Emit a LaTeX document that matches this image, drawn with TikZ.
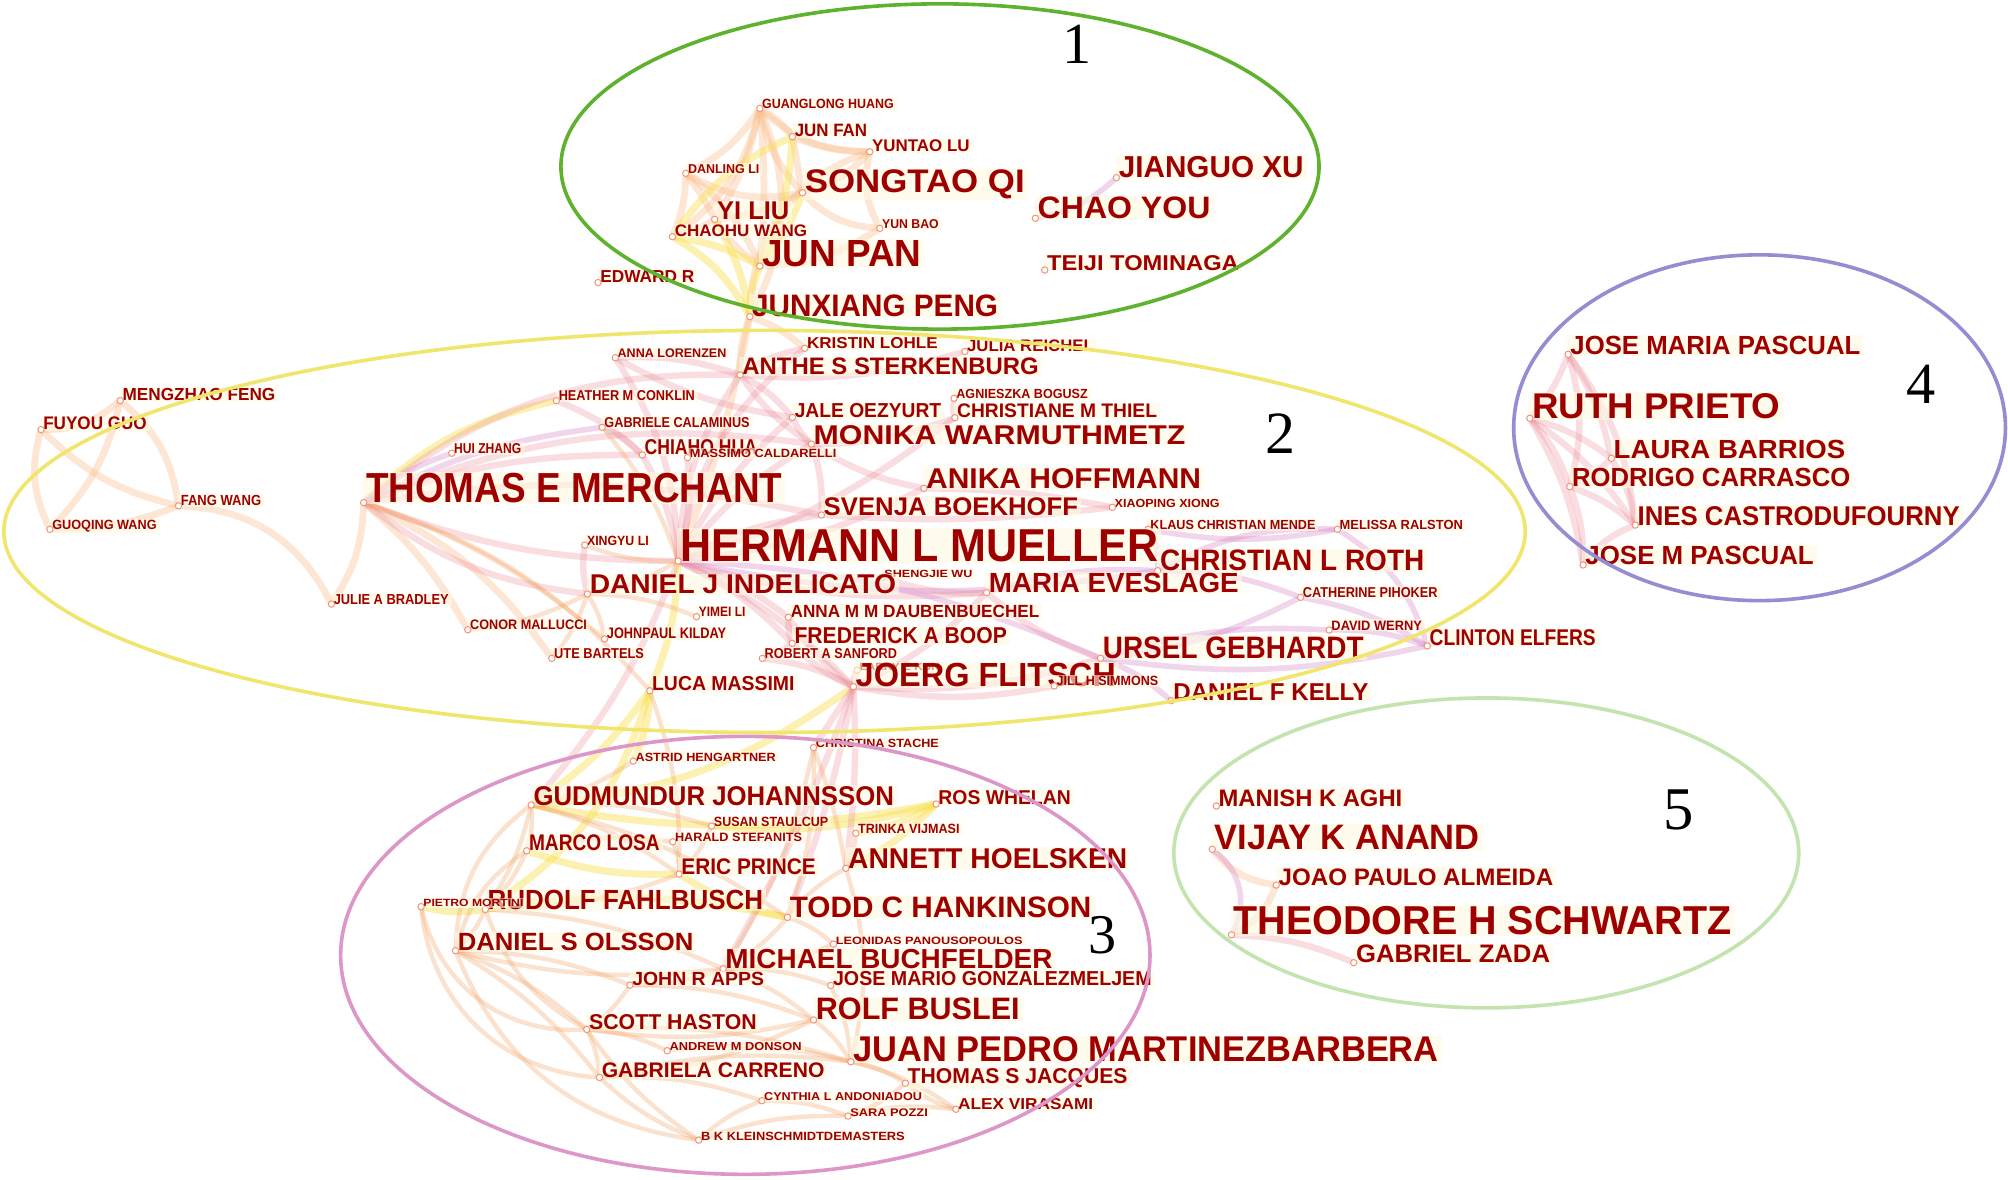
\documentclass[tikz,border=0pt]{standalone}
\usepackage{fontspec}
\usepackage{graphicx}
\newfontfamily\tx{Liberation Sans}
\newfontfamily\dg{Liberation Serif}
\pgfdeclarelayer{bg}
\pgfsetlayers{bg,main}
\newdimen\ux \ux=0.64pt
\definecolor{txt}{RGB}{158,0,0}
\definecolor{cream}{RGB}{255,251,228}
\definecolor{cpeach}{RGB}{250,190,140}
\definecolor{corange}{RGB}{245,160,95}
\definecolor{cyel}{RGB}{250,225,80}
\definecolor{cpink}{RGB}{235,135,150}
\definecolor{cmauve}{RGB}{215,135,200}
\definecolor{dotc}{RGB}{240,150,120}
\definecolor{ellgreen}{RGB}{95,178,45}
\definecolor{ellyellow}{RGB}{240,230,110}
\definecolor{ellpink}{RGB}{220,150,200}
\definecolor{ellpurple}{RGB}{150,140,210}
\definecolor{elllight}{RGB}{195,228,175}
\tikzset{
  lbl/.style={anchor=base west, inner xsep=1.5pt, inner ysep=0.6pt, fill=cream, fill opacity=0.6, text opacity=1, text=txt},
  dot/.style={circle, draw=dotc, fill=white, line width=0.5pt, minimum size=3.2pt, inner sep=0pt},
  dig/.style={inner sep=0pt, text=black},
  epeach/.style={draw=cpeach, line width=3.4pt, opacity=0.38, line cap=round},
  eorange/.style={draw=corange, line width=2.2pt, opacity=0.3, line cap=round},
  eyel/.style={draw=cyel, line width=3.6pt, opacity=0.45, line cap=round},
  epink/.style={draw=cpink, line width=3.2pt, opacity=0.28, line cap=round},
  emauve/.style={draw=cmauve, line width=2.8pt, opacity=0.35, line cap=round},
  ell/.style={line width=1.8pt}
}
\newcommand\au[6]{%
  \node[lbl] (#1l) at ({#2-2.34},{#3+#4/2}) {\resizebox{#5\ux}{#4\ux}{\tx\bfseries #6}};
  \node[dot] (#1) at ({#2-1.5},{#3+#4/2}) {};
}
\begin{document}
\begin{tikzpicture}[x=0.64pt,y=-0.64pt]
\useasboundingbox (0,0) rectangle (1568,921);
% cluster 1
\au{gh}{594.8}{81}{7.3}{102.8}{GUANGLONG HUANG}
\au{jfa}{620.3}{101.9}{9.6}{56.5}{JUN FAN}
\au{ytl}{680.7}{113.9}{9.2}{76.2}{YUNTAO LU}
\au{dl}{537}{131.8}{7.0}{55.7}{DANLING LI}
\au{sq}{628.1}{141.6}{17.8}{171.8}{SONGTAO QI}
\au{yl}{559.6}{164.4}{13.8}{56.5}{YI LIU}
\au{cw}{526.6}{180.3}{9.1}{103.3}{CHAOHU WANG}
\au{yb}{688.5}{174.8}{7.0}{44.2}{YUN BAO}
\au{jpn}{594.8}{197.6}{20.3}{124.4}{JUN PAN}
\au{er}{468.5}{216}{9.3}{73.4}{EDWARD R}
\au{jxp}{587}{238.8}{16.9}{192.1}{JUNXIANG PENG}
\au{jgx}{873.3}{130.5}{16.5}{144.4}{JIANGUO XU}
\au{cy}{810}{162}{16.9}{134.9}{CHAO YOU}
\au{tt}{817.3}{205}{11.7}{149.7}{TEIJI TOMINAGA}
% cluster 2
\au{kl}{629.9}{267.7}{8.6}{102}{KRISTIN LOHLE}
\au{jr}{754.9}{270}{9.1}{98.9}{JULIA REICHEL}
\au{al}{482}{275.9}{6.8}{84.9}{ANNA LORENZEN}
\au{ass}{579.4}{286.3}{13}{231.4}{ANTHE S STERKENBURG}
\au{hmc}{436}{309}{7.8}{106.2}{HEATHER M CONKLIN}
\au{ab}{746.5}{307.4}{7.2}{102.6}{AGNIESZKA BOGUSZ}
\au{jo}{620.3}{320.4}{11}{114.3}{JALE OEZYURT}
\au{ctm}{747.1}{320.8}{10.7}{156.1}{CHRISTIANE M THIEL}
\au{gcal}{471.7}{329.8}{7.8}{113.4}{GABRIELE CALAMINUS}
\au{mw}{635.1}{339.3}{14.8}{290.2}{MONIKA WARMUTHMETZ}
\au{ch}{503.1}{349.4}{11.7}{87.8}{CHIAHO HUA}
\au{mcal}{538.3}{354.1}{6.5}{114.5}{MASSIMO CALDARELLI}
\au{hz}{354.3}{350}{7.8}{52.5}{HUI ZHANG}
\au{ah}{722.9}{373.5}{15.6}{214.7}{ANIKA HOFFMANN}
\au{tem}{285.5}{381}{22.9}{325}{THOMAS E MERCHANT}
\au{sb}{642.9}{395.2}{13.9}{198.7}{SVENJA BOEKHOFF}
\au{xx}{870.1}{392.9}{6.4}{82}{XIAOPING XIONG}
\au{kcm}{898}{409.7}{7.2}{128.9}{KLAUS CHRISTIAN MENDE}
\au{mr}{1045.8}{409.7}{7.2}{96.2}{MELISSA RALSTON}
\au{xl}{458.1}{422}{7.3}{48.2}{XINGYU LI}
\au{hm}{531}{425.7}{24.8}{373.2}{HERMANN L MUELLER}
\au{clr}{905.5}{437.6}{16.1}{206.4}{CHRISTIAN L ROTH}
\au{sw}{690.3}{448}{5.7}{68.7}{SHENGJIE WU}
\au{dji}{460.2}{456.4}{14.8}{239.1}{DANIEL J INDELICATO}
\au{me}{771.9}{455.2}{15.1}{195.1}{MARIA EVESLAGE}
\au{cp}{1017.1}{462.5}{7.8}{105.1}{CATHERINE PIHOKER}
\au{jab}{260.3}{467.8}{7.8}{89.8}{JULIE A BRADLEY}
\au{yml}{545.4}{477.9}{7.3}{36.4}{YIMEI LI}
\au{amd}{617.1}{477.2}{9.6}{194.2}{ANNA M M DAUBENBUECHEL}
\au{cmal}{366.8}{488}{7.5}{91.2}{CONOR MALLUCCI}
\au{dw}{1039.4}{488.3}{7.3}{70.6}{DAVID WERNY}
\au{jk}{473.6}{494.8}{8.3}{93.2}{JOHNPAUL KILDAY}
\au{fab}{620.1}{496.1}{12.5}{165.9}{FREDERICK A BOOP}
\au{ce}{1116.1}{498.2}{12.4}{129.7}{CLINTON ELFERS}
\au{ug}{860.9}{505.6}{16.9}{203.6}{URSEL GEBHARDT}
\au{ub}{432.4}{510.2}{7.8}{70.2}{UTE BARTELS}
\au{ras}{596.8}{510.2}{7.8}{103.3}{ROBERT A SANFORD}
\au{lek}{670.9}{520.4}{5.7}{62.7}{LARRY E KUN}
\au{jfl}{667.9}{527.1}{18.2}{203.2}{JOERG FLITSCH}
\au{lm}{508.9}{533.9}{11}{111.2}{LUCA MASSIMI}
\au{jhs}{824.7}{532}{7.3}{79.5}{JILL H SIMMONS}
\au{dfk}{915.9}{540.6}{13.1}{152.3}{DANIEL F KELLY}
\au{mf}{95.4}{308}{9.5}{119.3}{MENGZHAO FENG}
\au{fg}{33.5}{330.5}{9.9}{80.8}{FUYOU GUO}
\au{fw}{140.9}{391}{8}{62.7}{FANG WANG}
\au{gw}{40.5}{409.7}{7.3}{81.5}{GUOQING WANG}
% cluster 3
\au{chs}{636.8}{580.5}{6.5}{96}{CHRISTINA STACHE}
\au{ahg}{496}{591}{6.5}{109.5}{ASTRID HENGARTNER}
\au{gj}{416.3}{621.2}{14.8}{281.5}{GUDMUNDUR JOHANNSSON}
\au{rw}{732.5}{622.4}{10.9}{103.3}{ROS WHELAN}
\au{ssc}{557.2}{641.4}{7.3}{89.3}{SUSAN STAULCUP}
\au{tv}{669.8}{647}{7.3}{79.2}{TRINKA VIJMASI}
\au{hst}{526.8}{654}{6.6}{99.2}{HARALD STEFANITS}
\au{ml}{412.8}{658.2}{12.3}{102.1}{MARCO LOSA}
\au{anh}{662}{670.2}{15.6}{218}{ANNETT HOELSKEN}
\au{ep}{531.8}{676.4}{12.3}{105}{ERIC PRINCE}
\au{rf}{380.5}{702.6}{15.1}{215.1}{RUDOLF FAHLBUSCH}
\au{pmo}{330.3}{705.1}{5.7}{78.1}{PIETRO MORTINI}
\au{tch}{616.4}{708.3}{16.1}{235.6}{TODD C HANKINSON}
\au{lp}{652.3}{734.3}{5.8}{145.9}{LEONIDAS PANOUSOPOULOS}
\au{dso}{357.2}{735.6}{13.6}{183.9}{DANIEL S OLSSON}
\au{mb}{566.2}{749}{15}{255.3}{MICHAEL BUCHFELDER}
\au{jra}{493.4}{764}{10.4}{103}{JOHN R APPS}
\au{jmg}{650.2}{764}{11}{248.8}{JOSE MARIO GONZALEZMELJEM}
\au{rb}{636.8}{788}{16.9}{159.1}{ROLF BUSLEI}
\au{sh}{459.7}{798}{11.7}{130.9}{SCOTT HASTON}
\au{amdo}{522.5}{817.3}{6.3}{103.1}{ANDREW M DONSON}
\au{jpm}{665.9}{819.3}{19.5}{457.3}{JUAN PEDRO MARTINEZBARBERA}
\au{gc}{469.6}{835.6}{11.5}{173.9}{GABRIELA CARRENO}
\au{tsj}{708.5}{840}{11.7}{171.7}{THOMAS S JACQUES}
\au{cla}{596.4}{856.4}{6.2}{123.3}{CYNTHIA L ANDONIADOU}
\au{av}{747.9}{861.9}{8.6}{105.4}{ALEX VIRASAMI}
\au{spz}{663.7}{868.5}{6}{60.5}{SARA POZZI}
\au{bkk}{547.1}{887}{6.5}{159.1}{B K KLEINSCHMIDTDEMASTERS}
% cluster 4
\au{jmpa}{1226}{269.5}{14.3}{226.4}{JOSE MARIA PASCUAL}
\au{rp}{1196.1}{316.9}{19.5}{193.9}{RUTH PRIETO}
\au{lb}{1259.8}{350.7}{14.3}{180.9}{LAURA BARRIOS}
\au{rc}{1227.3}{372.8}{14.3}{217.3}{RODRIGO CARRASCO}
\au{icd}{1278.5}{402.6}{14.8}{251.5}{INES CASTRODUFOURNY}
\au{jmp}{1237.7}{434}{14.3}{178.3}{JOSE M PASCUAL}
% cluster 5
\au{mka}{951.3}{622.9}{13}{143.4}{MANISH K AGHI}
\au{vka}{948.1}{653.7}{19}{207.1}{VIJAY K ANAND}
\au{jpa}{998.1}{684.6}{13}{214.5}{JOAO PAULO ALMEIDA}
\au{ths}{963.1}{719}{22}{388.8}{THEODORE H SCHWARTZ}
\au{gz}{1058.6}{744.8}{13.8}{151.5}{GABRIEL ZADA}

\begin{pgfonlayer}{bg}
\fill[white] (0,0) rectangle (1568,921);
\foreach \a/\b/\c in {gh/jfa/10, gh/dl/15, gh/yl/10, gh/sq/-15, gh/jpn/5, gh/ytl/-20, gh/cw/20, gh/jxp/25,
  jfa/ytl/-10, jfa/sq/0, dl/cw/10, dl/jpn/15, dl/sq/-20, dl/yl/5, sq/ytl/-15, sq/yb/-20, sq/yl/10,
  yl/cw/10, yl/jpn/-10, yb/jpn/15, yb/ytl/20, jxp/kl/10, jxp/ass/-10, jxp/hm/5, ytl/jxp/-35,
  tem/jab/15, jab/fw/-30, fw/gw/10, fw/fg/15, fw/mf/-20, fg/mf/-20, fg/gw/-20, mf/gw/15,
  vka/jpa/-20, jpa/ths/20, tem/cmal/10, tem/ub/15}
  \draw[epeach] (\a) to[bend left=\c] (\b);
\foreach \a/\b/\c in {jfa/cw/-15, jfa/jpn/10, sq/jpn/10, yl/jxp/10, cw/jpn/10, cw/jxp/15, jpn/jxp/-10,
  tem/hmc/15, lm/ahg/10, lm/rf/20, lm/gj/10, gj/rw/-10, rw/tv/10, rw/anh/10, rf/pmo/10, ep/ml/10,
  ep/tch/-10, jfl/gj/15, hm/lm/10, rw/ssc/10, tch/rf/-10}
  \draw[eyel] (\a) to[bend left=\c] (\b);
\foreach \a/\b/\c in {hm/mw/10, hm/ah/-10, hm/sb/10, hm/me/-10, hm/tem/10, hm/ass/15, hm/jo/10, hm/ctm/-10,
  hm/amd/10, hm/fab/10, hm/ch/-10, hm/kl/20, hm/jfl/10, tem/mw/15, tem/dji/-15, tem/ch/10, tem/sb/10,
  tem/ass/20, ah/xx/5, sb/xx/-5, mw/ass/10, mw/jo/10, mw/ah/-10, mw/sb/10, ass/jo/10, ass/al/-10,
  ass/kl/10, ass/jr/-10, ctm/ab/10, ctm/mw/10, jo/al/10, me/ug/-10, me/jfl/10, me/sw/10, jfl/ug/-10,
  jfl/fab/10, jfl/ras/-10, jfl/lek/10, jfl/jhs/-10, jfl/amd/10, fab/amd/10, fab/ras/10, dji/xl/10,
  gcal/ch/10, hmc/ch/10, al/hm/15, mcal/hm/10, jfl/chs/0, jfl/tch/5, jfl/anh/5, hm/gj/10, jfl/mb/5,
  jmpa/rp/10, jmpa/rc/15, jmpa/lb/10, jmpa/icd/15, rp/lb/10, rp/rc/10, rp/icd/10, rp/jmp/10,
  lb/rc/10, lb/icd/10, rc/icd/10, rc/jmp/10, icd/jmp/-15, ths/gz/10}
  \draw[epink] (\a) to[bend left=\c] (\b);
\foreach \a/\b/\c in {hm/ug/10, hm/clr/-10, tem/hz/10, clr/kcm/-15, clr/mr/15, clr/cp/10, ug/cp/-10,
  ug/dw/10, ug/ce/-10, dw/ce/10, mr/ce/20, cp/ce/10, kcm/mr/-10, ug/dfk/10, me/clr/10, cy/jgx/-15,
  vka/ths/40, tem/gcal/10}
  \draw[emauve] (\a) to[bend left=\c] (\b);
\foreach \a/\b/\c in {tem/jk/10, tem/lm/15, hm/dji/10, hm/xl/10, dji/yml/10, dji/jk/10, dji/cmal/10,
  dji/ub/10, gcal/hm/10, lm/ep/10, chs/mb/10, chs/anh/5, ahg/gj/10,
  gj/ssc/10, gj/ml/10, gj/ep/10, gj/rf/10, gj/tch/10, tv/anh/10, ssc/ep/10, hst/ep/10, ml/rf/10,
  ml/hst/10, ep/rf/10, rf/dso/10, rf/mb/10, tch/anh/10, tch/mb/10, tch/lp/10, mb/rb/10,
  mb/jra/10, mb/jmg/10, mb/dso/10, jra/sh/10, jra/rb/10, rb/jpm/10, rb/sh/10, rb/gc/10, sh/gc/10,
  sh/amdo/10, gc/cla/10, gc/jpm/10, jpm/tsj/10, tsj/spz/10, cla/spz/10, spz/av/10, av/tsj/10,
  bkk/cla/10, bkk/gc/10, bkk/sh/10, dso/sh/10, dso/jra/10, jpm/av/10, jmg/jpm/10, lp/mb/10,
  sh/jpm/10, dso/gc/10, amdo/jpm/10, bkk/spz/10, chs/tch/10, pmo/sh/-40, pmo/gc/-40, dso/bkk/-30,
  ml/dso/-20, gj/dso/-25, rf/sh/-20, anh/jpm/15}
  \draw[eorange] (\a) to[bend left=\c] (\b);
\end{pgfonlayer}

% cluster ellipses
\draw[ell, ellgreen] (734,130) ellipse [x radius=189.44pt, y radius=81.28pt];
\draw[ell, ellyellow] (597,415) ellipse [x radius=380.16pt, y radius=100.48pt];
\draw[ell, ellpink] (582,746) ellipse [x radius=202.24pt, y radius=109.44pt];
\draw[ell, ellpurple] (1374,334) ellipse [x radius=122.88pt, y radius=86.4pt];
\draw[ell, elllight] (1160.6,666) ellipse [x radius=156.16pt, y radius=77.44pt];

% cluster numbers
\node[dig] (n1) at (841,34.5) {\resizebox{!}{30\ux}{\dg 1}};
\node[dig] (n2) at (999.7,338.4) {\resizebox{!}{31\ux}{\dg 2}};
\node[dig] (n3) at (861,730) {\resizebox{!}{29\ux}{\dg 3}};
\node[dig] (n4) at (1500.5,300) {\resizebox{!}{30\ux}{\dg 4}};
\node[dig] (n5) at (1311,632.5) {\resizebox{!}{31\ux}{\dg 5}};
\end{tikzpicture}
\end{document}
